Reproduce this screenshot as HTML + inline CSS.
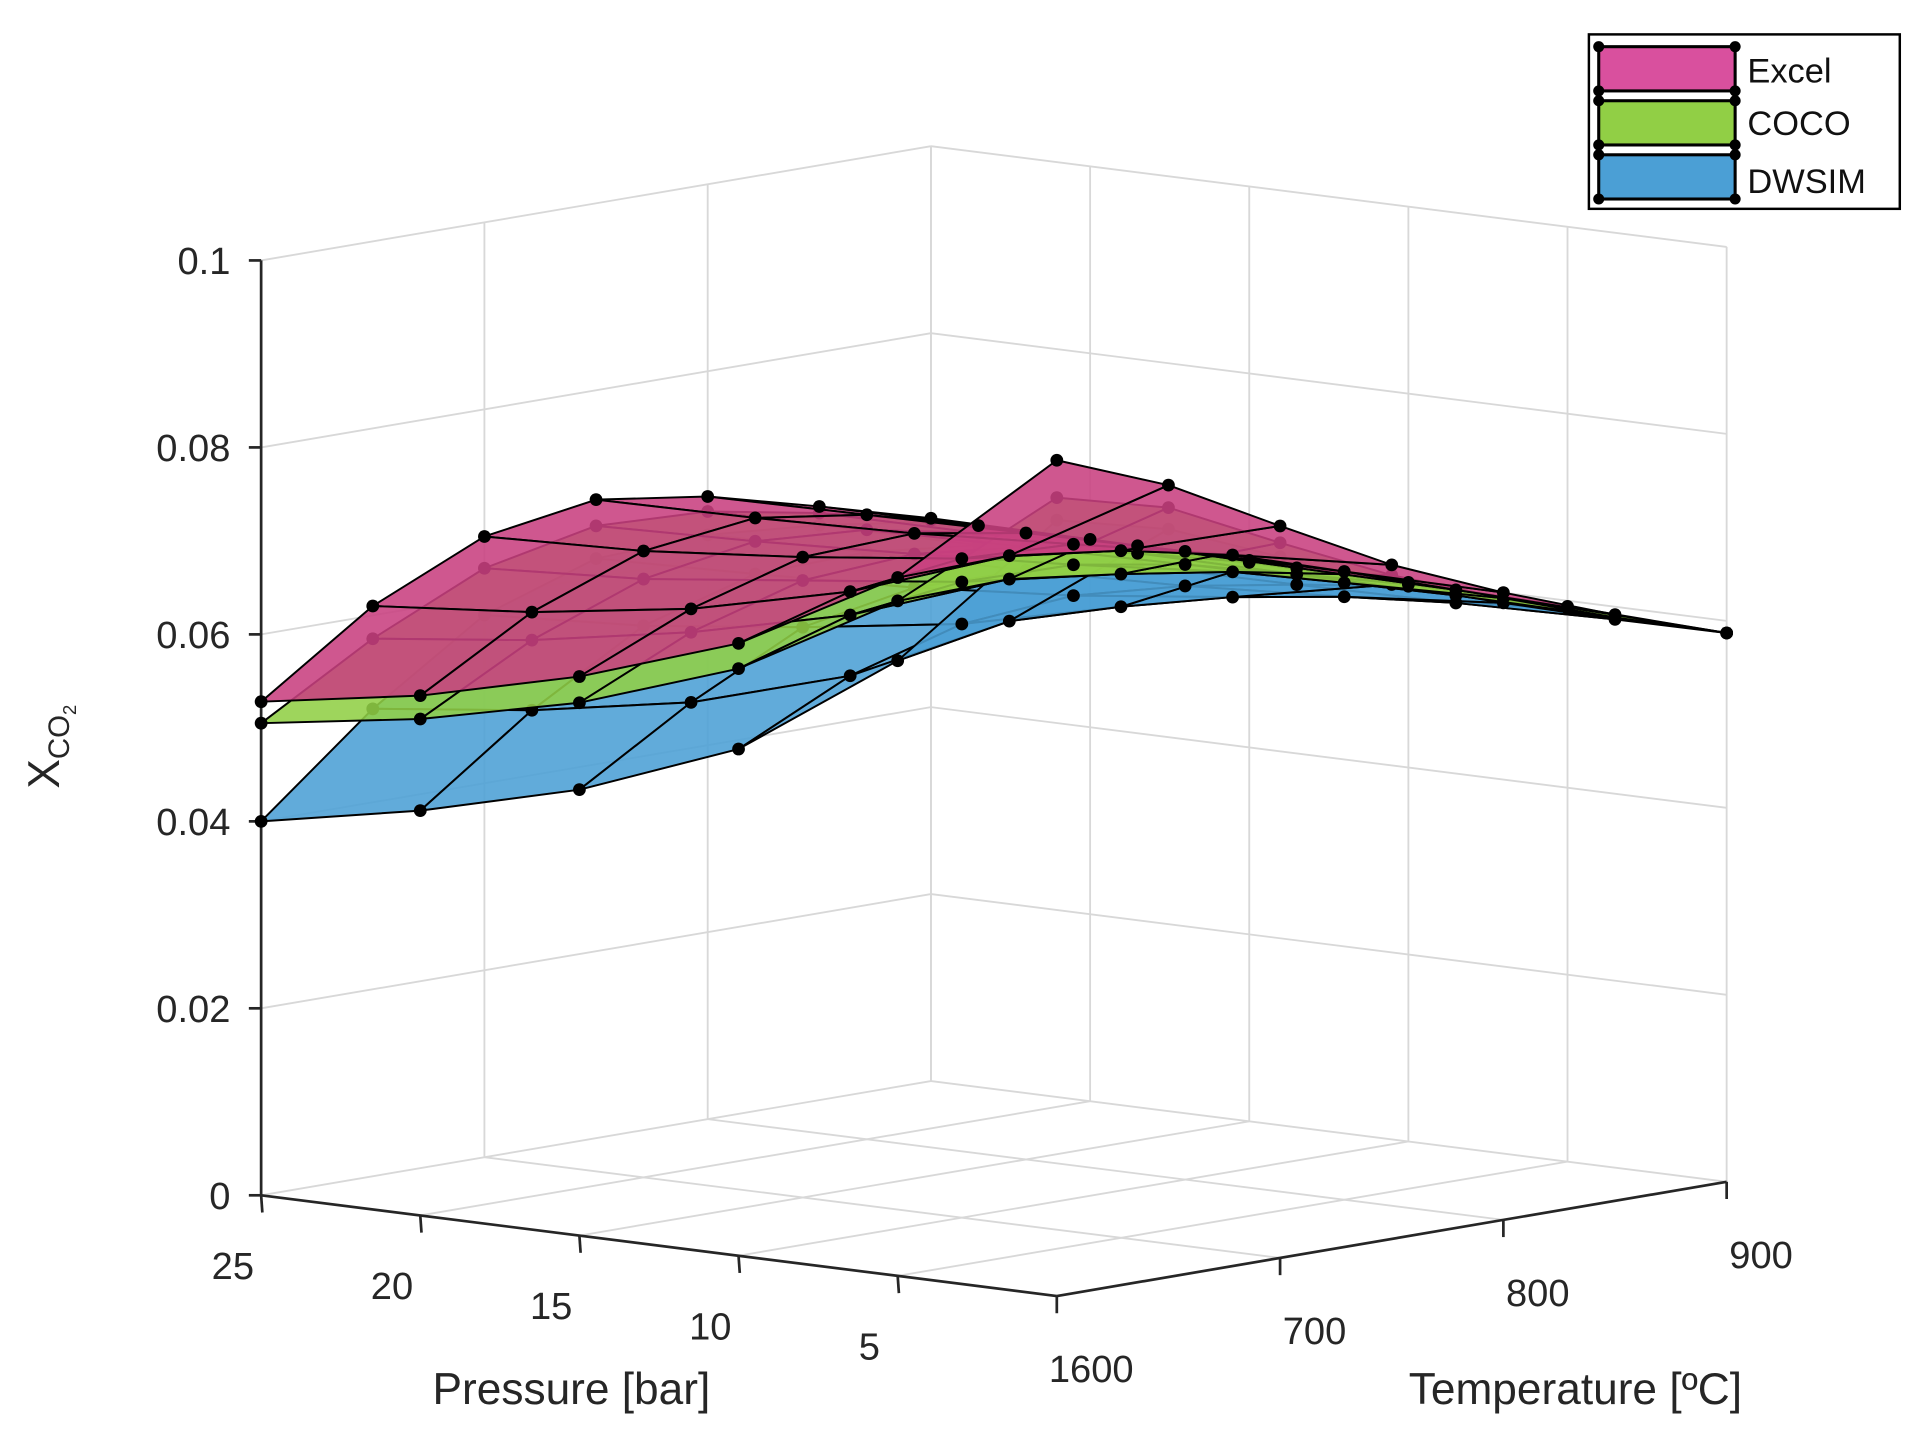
<!DOCTYPE html>
<html><head><meta charset="utf-8"><style>
html,body{margin:0;padding:0;background:#fff;}
svg{display:block;font-family:"Liberation Sans",sans-serif;}
</style></head><body>
<svg id="chart" width="1917" height="1441" viewBox="0 0 1560 1173" preserveAspectRatio="none" xmlns="http://www.w3.org/2000/svg">
<g id="grid"></g>
<g id="axes"></g>
<g id="surfs"></g>
<g id="legend">
  <rect x="1293" y="28" width="253" height="142" fill="#fff" stroke="#000" stroke-width="2"/>
  <g>
    <rect x="1301" y="38" width="111" height="36" fill="#d9509e" stroke="#000" stroke-width="2.5"/>
    <circle cx="1301" cy="38" r="4.5"/><circle cx="1412" cy="38" r="4.5"/><circle cx="1301" cy="74" r="4.5"/><circle cx="1412" cy="74" r="4.5"/>
    <text x="1422" y="67" font-size="28" fill="#111">Excel</text>
  </g>
  <g>
    <rect x="1301" y="82" width="111" height="36" fill="#91cf45" stroke="#000" stroke-width="2.5"/>
    <circle cx="1301" cy="82" r="4.5"/><circle cx="1412" cy="82" r="4.5"/><circle cx="1301" cy="118" r="4.5"/><circle cx="1412" cy="118" r="4.5"/>
    <text x="1422" y="110" font-size="28" fill="#111">COCO</text>
  </g>
  <g>
    <rect x="1301" y="126" width="111" height="36" fill="#4b9fd5" stroke="#000" stroke-width="2.5"/>
    <circle cx="1301" cy="126" r="4.5"/><circle cx="1412" cy="126" r="4.5"/><circle cx="1301" cy="162" r="4.5"/><circle cx="1412" cy="162" r="4.5"/>
    <text x="1422" y="157" font-size="28" fill="#111">DWSIM</text>
  </g>
</g>
</svg>
<script>
const pressures = [25, 20, 15, 10, 5, 0];
const temperatures = [600, 650, 700, 750, 800, 850, 900];
const excelValues = [
  [0.0528,0.0610,0.0664,0.0683,0.0666,0.0635,0.0602],
  [0.0556,0.0625,0.0670,0.0685,0.0668,0.0636,0.0601],
  [0.0598,0.0650,0.0685,0.0690,0.0670,0.0636,0.0600],
  [0.0655,0.0690,0.0705,0.0700,0.0672,0.0634,0.0598],
  [0.0747,0.0750,0.0735,0.0710,0.0672,0.0632,0.0594],
  [0.0894,0.0847,0.0783,0.0721,0.0671,0.0627,0.0587]];
const cocoValues = [
  [0.0505,0.0575,0.0630,0.0655,0.0650,0.0628,0.0600],
  [0.0531,0.0595,0.0640,0.0660,0.0652,0.0628,0.0599],
  [0.0570,0.0625,0.0660,0.0668,0.0655,0.0628,0.0598],
  [0.0628,0.0665,0.0680,0.0678,0.0658,0.0627,0.0596],
  [0.0722,0.0725,0.0710,0.0692,0.0660,0.0626,0.0593],
  [0.0854,0.0823,0.0765,0.0710,0.0665,0.0624,0.0587]];
const dwsimValues = [
  [0.0400,0.0500,0.0580,0.0620,0.0625,0.0615,0.0598],
  [0.0433,0.0520,0.0590,0.0625,0.0628,0.0615,0.0597],
  [0.0477,0.0550,0.0610,0.0632,0.0630,0.0615,0.0596],
  [0.0542,0.0600,0.0635,0.0645,0.0635,0.0616,0.0594],
  [0.0658,0.0680,0.0675,0.0665,0.0645,0.0618,0.0592],
  [0.0830,0.0800,0.0750,0.0700,0.0660,0.0622,0.0587]];
const zTicks = [0, 0.02, 0.04, 0.06, 0.08, 0.1];
const zTickLabels = ['0','0.02','0.04','0.06','0.08','0.1'];
const pTicks = [25, 20, 15, 10, 5];
const pTickLabels = ['25','20','15','10','5'];
const tTicks = [600, 700, 800, 900];
const tTickLabels = ['1600','700','800','900'];

const NS='http://www.w3.org/2000/svg';
function proj(P,T,z){
  return [860 - 25.9*P + 1.817*(T-600), 1055 - 3.28*P - 0.31*(T-600) - 7610*z];
}
function mk(tag,parent,attrs){const e=document.createElementNS(NS,tag);for(const k in attrs)e.setAttribute(k,attrs[k]);parent.appendChild(e);return e;}
function line(parent,a,b,stroke,w,name){
  const e=mk('line',parent,{x1:a[0],y1:a[1],x2:b[0],y2:b[1],stroke:stroke,'stroke-width':w});
  
  
}
const grid=document.getElementById('grid'), axes=document.getElementById('axes'), surfs=document.getElementById('surfs');
const GC='#d8d8d8';
zTicks.forEach(z=>{
  if(z>0){line(grid,proj(25,600,z),proj(25,900,z),GC,1.5,'grid-z-left-wall');
  line(grid,proj(25,900,z),proj(0,900,z),GC,1.5,'grid-z-right-wall');}
});
tTicks.forEach(t=>{
  line(grid,proj(25,t,0),proj(25,t,0.1),GC,1.5,'grid-t-wall');
  line(grid,proj(25,t,0),proj(0,t,0),GC,1.5,'grid-t-floor');
});
[25,20,15,10,5,0].forEach(p=>{
  line(grid,proj(p,900,0),proj(p,900,0.1),GC,1.5,'grid-p-wall');
  line(grid,proj(p,600,0),proj(p,900,0),GC,1.5,'grid-p-floor');
});
line(axes,proj(25,600,0),proj(25,600,0.1),'#262626',2.2,'z-axis-line');
line(axes,proj(25,600,0),proj(0,600,0),'#262626',2.2,'pressure-axis-line');
line(axes,proj(0,600,0),proj(0,900,0),'#262626',2.2,'temperature-axis-line');
zTicks.forEach((z,i)=>{
  const p=proj(25,600,z);
  line(axes,p,[p[0]-10,p[1]],'#262626',2.2,'z-tick');
  const t=mk('text',axes,{x:p[0]-25,y:p[1]+11,'font-size':31,'text-anchor':'end',fill:'#262626'});
  t.textContent=zTickLabels[i];
  
  
});
pTicks.forEach((pv,i)=>{
  const p=proj(pv,600,0);
  line(axes,p,[p[0]+1,p[1]+14],'#262626',2.2,'pressure-tick');
  const t=mk('text',axes,{x:p[0]-23,y:p[1]+68,'font-size':31,'text-anchor':'middle',fill:'#262626'});
  t.textContent=pTickLabels[i];
  
  
});
tTicks.forEach((tv,i)=>{
  const p=proj(0,tv,0);
  line(axes,p,[p[0],p[1]+14],'#262626',2.2,'temperature-tick');
  const t=mk('text',axes,{x:p[0]+28,y:p[1]+70,'font-size':31,'text-anchor':'middle',fill:'#262626'});
  t.textContent=tTickLabels[i];
  
  
});
let tt=mk('text',axes,{x:465,y:1143,'font-size':36,'text-anchor':'middle',fill:'#262626'});
tt.textContent='Pressure [bar]';


tt=mk('text',axes,{x:1282,y:1143,'font-size':36,'text-anchor':'middle',fill:'#262626'});
tt.textContent='Temperature [ºC]';


tt=mk('text',axes,{x:0,y:0,'font-size':36,fill:'#262626',transform:'translate(48,642) rotate(-90)'});
tt.innerHTML='X<tspan font-size="24" dy="8">CO</tspan><tspan font-size="15" dy="6">2</tspan>';



function drawSurface(vals,fill,name){
  const g=mk('g',surfs,{});
  
  
  const quads=[];
  for(let i=0;i<pressures.length-1;i++)for(let j=0;j<temperatures.length-1;j++){
    const c=[[i,j],[i+1,j],[i+1,j+1],[i,j+1]];
    const depth=c.reduce((s,[a,b])=>s+pressures[a]/25+(temperatures[b]-600)/300,0);
    quads.push({c,depth});
  }
  quads.sort((a,b)=>b.depth-a.depth);
  quads.forEach(q=>{
    const pts=q.c.map(([a,b])=>proj(pressures[a],temperatures[b],vals[a][b]).join(',')).join(' ');
    const e=mk('polygon',g,{points:pts,fill:fill,'fill-opacity':0.88,stroke:'#000','stroke-width':1.6,'stroke-linejoin':'round'});
    
    
  });
  for(let i=0;i<pressures.length;i++)for(let j=0;j<temperatures.length;j++){
    const p=proj(pressures[i],temperatures[j],vals[i][j]);
    const e=mk('circle',g,{cx:p[0],cy:p[1],r:5.2,fill:'#000'});
    
    
  }
}
drawSurface(dwsimValues,'#4b9fd5','dwsim-surface');
drawSurface(cocoValues,'#91cf45','coco-surface');
drawSurface(excelValues,'#c8407f','excel-surface');
</script>
</body></html>
